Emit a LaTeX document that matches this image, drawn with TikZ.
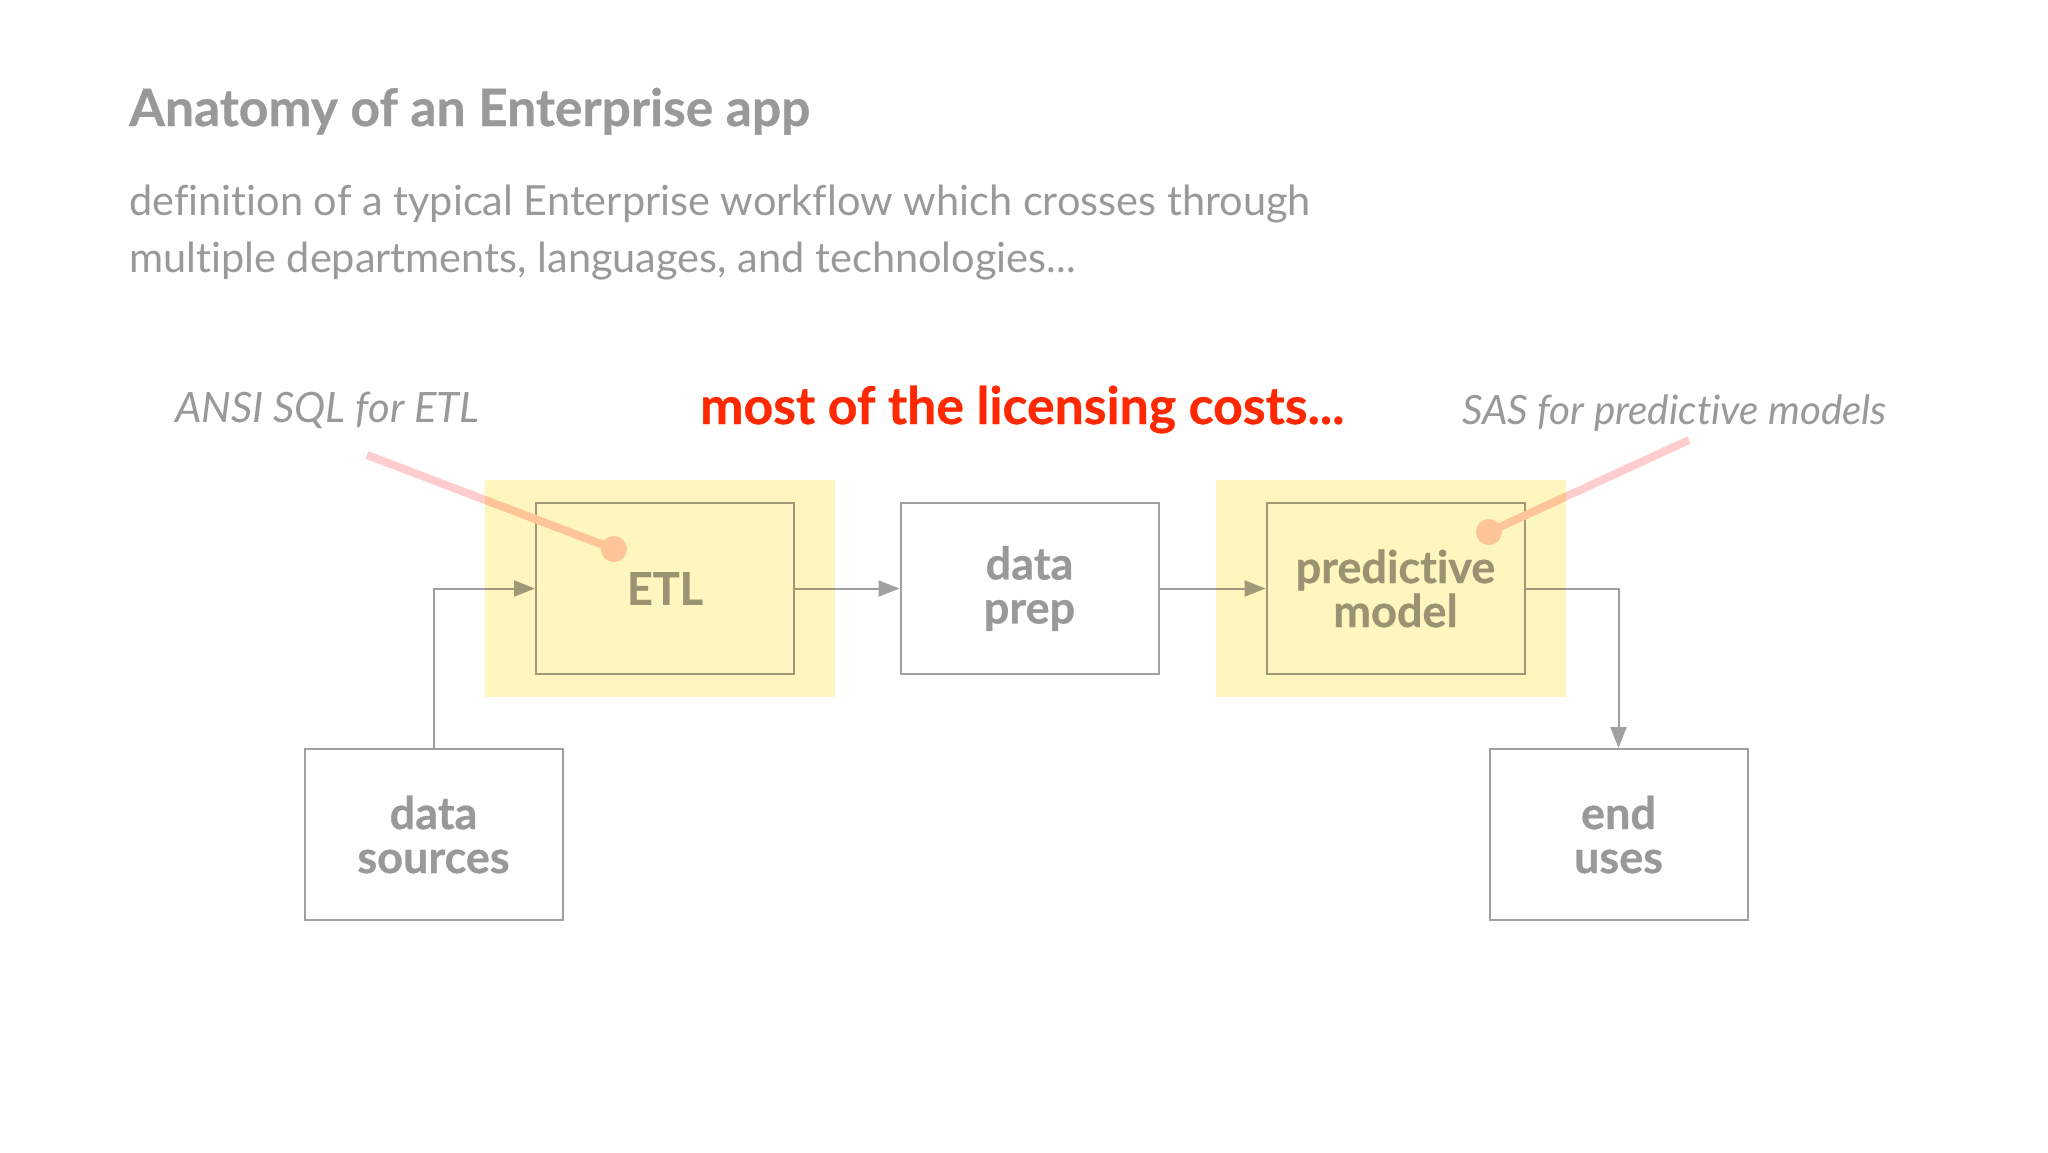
\documentclass[tikz,border=0pt]{standalone}
\usepackage{fontspec}
\setmainfont{Lato}[Ligatures=NoCommon]
\usetikzlibrary{arrows.meta}
\definecolor{txtgray}{RGB}{153,153,153}
\definecolor{boxgray}{RGB}{160,160,160}
\definecolor{hiyellow}{RGB}{255,245,190}
\definecolor{pinkline}{RGB}{255,205,205}
\definecolor{costred}{RGB}{255,40,0}
\newcommand{\heavy}{\bfseries\addfontfeature{FakeBold=0.6}}
\tikzset{
  stepbox/.style={draw=boxgray, line width=2pt, fill=white, minimum width=258pt, minimum height=171pt,
    inner sep=0pt, align=center, text=txtgray, font=\fontsize{45}{44}\selectfont\heavy},
  flow/.style={draw=boxgray, line width=2pt, -{Triangle[length=21pt,width=16pt]}},
  hilite/.style={fill=hiyellow},
  callout/.style={draw=pinkline, line width=8pt},
  dotmark/.style={fill=pinkline},
  plain/.style={anchor=base west, inner sep=0pt, text=txtgray}
}
\begin{document}
\begin{tikzpicture}[x=1pt,y=-1pt]
\useasboundingbox[fill=white] (0,0) rectangle (2048,1152);
% texts
\node[plain, font=\fontsize{51.5}{60}\selectfont\heavy] (title) at (129,126) {Anatomy of an Enterprise app};
\node[plain, font=\fontsize{41.5}{56}\selectfont] (sub1) at (129,215) {definition of a typical Enterprise workflow which crosses through};
\node[plain, font=\fontsize{41.5}{56}\selectfont] (sub2) at (129,272) {multiple departments, languages, and technologies...};
\node[plain, font=\fontsize{41.8}{48}\selectfont\itshape] (ansi) at (175,422) {ANSI SQL for ETL};
\node[plain, font=\fontsize{51.7}{56}\selectfont\heavy, text=costred] (cost) at (700,424) {most of the licensing costs...};
\node[plain, font=\fontsize{40.4}{48}\selectfont\itshape] (sas) at (1462,424) {SAS for predictive models};
% boxes
\node[stepbox] (etl) at (665,588.5) {ETL};
\node[stepbox] (prep) at (1029.5,588.5) {data\\prep};
\node[stepbox] (model) at (1395.5,588.5) {predictive\\model};
\node[stepbox] (src) at (433.5,834.5) {data\\sources};
\node[stepbox] (uses) at (1618.5,834.5) {end\\uses};
% connectors
\draw[flow] (src.north) |- (etl.west);
\draw[flow] (etl.east) -- (prep.west);
\draw[flow] (prep.east) -- (model.west);
\draw[flow] (model.east) -| (uses.north);
% callouts
\coordinate (ansiend) at (367,455);
\coordinate (ansidot) at (614,549);
\coordinate (sasend) at (1689,440);
\coordinate (sasdot) at (1489,532);
\draw[callout] (ansiend) -- (ansidot);
\fill[dotmark] (ansidot) circle (13);
\draw[callout] (sasend) -- (sasdot);
\fill[dotmark] (sasdot) circle (13);
% highlight overlays
\begin{scope}[blend mode=multiply]
\fill[hilite] (485,480) rectangle (835,697);
\fill[hilite] (1216,480) rectangle (1566,697);
\end{scope}
\end{tikzpicture}
\end{document}
